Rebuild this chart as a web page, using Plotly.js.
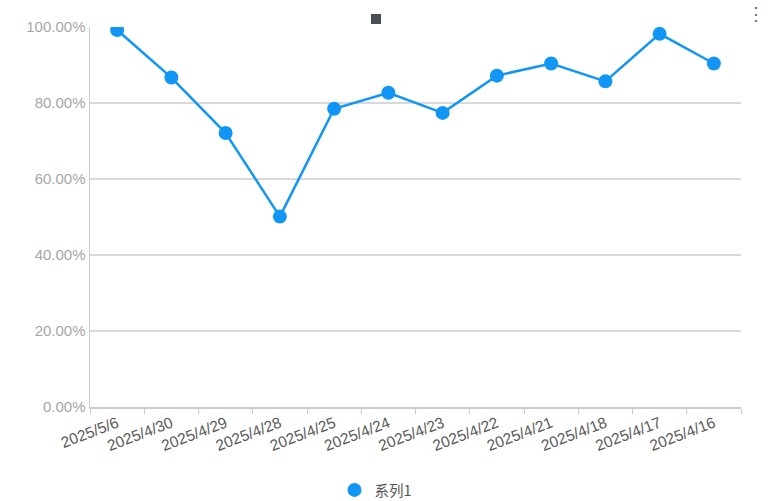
<!DOCTYPE html>
<html>
<head>
<meta charset="utf-8">
<script src="https://cdn.plot.ly/plotly-3.0.1.min.js"></script>
<style>html,body{margin:0;padding:0;background:#fff;}#chart{width:772px;height:501px;}</style>
</head>
<body>
<div id="chart"></div>
<script>
const categories = ["2025/5/6","2025/4/30","2025/4/29","2025/4/28","2025/4/25","2025/4/24","2025/4/23","2025/4/22","2025/4/21","2025/4/18","2025/4/17","2025/4/16"];
const seriesName = "系列1";
const values = [99.2, 86.7, 72.1, 50.1, 78.5, 82.7, 77.4, 87.2, 90.4, 85.7, 98.2, 90.4];
const yTicks = [0, 20, 40, 60, 80, 100];

const lineColor = "#1296f5";
const lineTrace = {
  type: "scatter",
  mode: "lines",
  x: categories,
  y: values,
  name: seriesName,
  line: {color: lineColor, width: 2.5},
  showlegend: false
};
const markerTrace = {
  type: "scatter",
  mode: "markers",
  x: categories,
  y: values,
  name: seriesName,
  marker: {color: lineColor, size: 14},
  showlegend: true
};

const layout = {
  width: 772, height: 501,
  margin: {l: 90, r: 31, t: 27, b: 94, autoexpand: false},
  paper_bgcolor: "#fff", plot_bgcolor: "#fff",
  font: {family: "'Liberation Sans', Arial, 'Noto Sans CJK SC', sans-serif"},
  xaxis: {
    type: "category",
    automargin: false,
    tickson: "boundaries",
    ticks: "outside", ticklen: 5, tickcolor: "#cccccc", tickwidth: 1,
    showgrid: false,
    showline: true, linecolor: "#cccccc", linewidth: 1.5,
    tickangle: -21,
    tickfont: {size: 15.5, color: "#5a5a5a"},
    range: [-0.5, 11.5],
    fixedrange: true
  },
  yaxis: {
    automargin: false,
    range: [0, 100],
    tickvals: yTicks,
    ticktext: yTicks.map(v => v.toFixed(2) + "%"),
    showgrid: true, gridcolor: "#d9d9d9", gridwidth: 1.5,
    showline: true, linecolor: "#cccccc", linewidth: 1.5,
    zeroline: false,
    ticks: "", ticklen: 0,
    tickfont: {size: 15, color: "#a6a6a6"},
    fixedrange: true
  },
  legend: {
    orientation: "h", xref: "container", yref: "container",
    x: 376/772, xanchor: "center", y: 1 - 490/501, yanchor: "middle",
    font: {size: 14.5, color: "#555555", family: "'Noto Sans CJK SC', sans-serif"},
    itemsizing: "trace"
  },
  shapes: [
    {type: "rect", xref: "paper", yref: "paper", x0: (371-90)/651, x1: (381-90)/651, y0: (407-14)/380, y1: (407-24)/380,
     fillcolor: "#4a4d52", line: {width: 0}, layer: "above"}
  ],
  annotations: [
    {text: "⋮", xref: "paper", yref: "paper", x: (756-90)/651, y: (407-14)/380, showarrow: false,
     font: {size: 18, color: "#666666"}, xanchor: "center", yanchor: "middle"}
  ]
};

Plotly.newPlot("chart", [lineTrace, markerTrace], layout, {displayModeBar: false, staticPlot: true});
</script>
</body>
</html>
